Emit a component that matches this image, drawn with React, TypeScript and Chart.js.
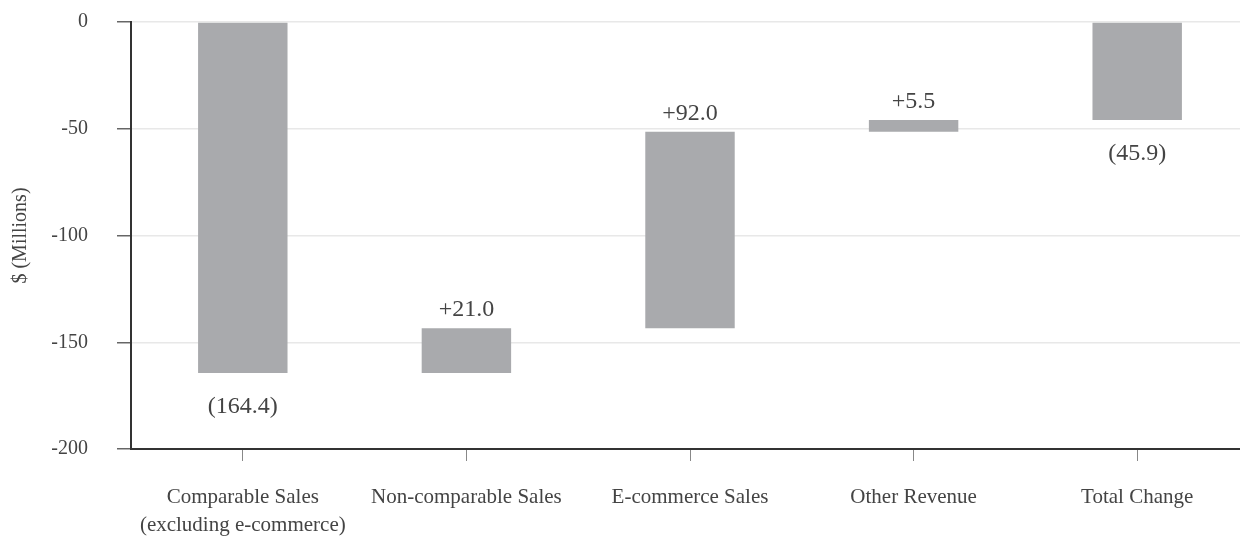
import React, { useEffect, useRef } from "react";
import { Chart, registerables } from "chart.js";

Chart.register(...registerables);

const categories: (string | string[])[] = [
  ["Comparable Sales", "(excluding e-commerce)"],
  "Non-comparable Sales",
  "E-commerce Sales",
  "Other Revenue",
  "Total Change",
];
const barFrom = [0, -164.4, -143.4, -51.4, 0];
const barTo = [-164.4, -143.4, -51.4, -45.9, -45.9];
const valueLabels = ["(164.4)", "+21.0", "+92.0", "+5.5", "(45.9)"];
const yTicks = [0, -50, -100, -150, -200];

const FONT = "'Liberation Serif', 'Times New Roman', serif";

const labelPlugin = {
  id: "waterfallLabels",
  afterDatasetsDraw(chart: any) {
    const ctx = chart.ctx;
    const meta = chart.getDatasetMeta(0);
    const y = chart.scales.y;
    ctx.save();
    ctx.font = `24px ${FONT}`;
    ctx.fillStyle = "#444";
    ctx.textAlign = "center";
    ctx.textBaseline = "middle";
    meta.data.forEach((bar: any, i: number) => {
      const text = valueLabels[i];
      const hi = Math.max(barFrom[i], barTo[i]);
      const lo = Math.min(barFrom[i], barTo[i]);
      if (text.startsWith("+")) {
        ctx.fillText(text, bar.x, y.getPixelForValue(hi) - 18);
      } else {
        ctx.fillText(text, bar.x, y.getPixelForValue(lo) + 34);
      }
    });
    ctx.restore();
  },
};

export default function App() {
  const ref = useRef<HTMLCanvasElement | null>(null);
  useEffect(() => {
    if (!ref.current) return;
    const chart = new Chart(ref.current, {
      type: "bar",
      data: {
        labels: categories,
        datasets: [
          {
            data: barFrom.map((f, i) => [f, barTo[i]]) as any,
            backgroundColor: "#a9aaad",
            borderWidth: 0,
            barPercentage: 0.4,
            categoryPercentage: 1,
          },
        ],
      },
      options: {
        responsive: false,
        animation: false,
        layout: { padding: { top: 22, right: 0, left: 0, bottom: 0 } },
        plugins: {
          legend: { display: false },
          tooltip: { enabled: false },
        },
        scales: {
          x: {
            grid: {
              display: true,
              drawOnChartArea: false,
              drawTicks: true,
              tickLength: 12,
              tickColor: "#888",
              offset: false,
            },
            border: { display: true, color: "#333", width: 2 },
            ticks: {
              color: "#444",
              font: { family: FONT, size: 21, lineHeight: 1.35 },
              padding: 22,
              maxRotation: 0,
              autoSkip: false,
            },
            afterFit: (s: any) => {
              s.height = 89;
              s.paddingLeft = 0;
              s.paddingRight = 0;
            },
          },
          y: {
            min: -200,
            max: 0,
            afterBuildTicks: (s: any) => {
              s.ticks = yTicks.map((v) => ({ value: v }));
            },
            grid: {
              color: "#e8e8e8",
              lineWidth: 1.5,
              tickLength: 14,
              tickColor: "#666",
            },
            border: { display: true, color: "#333", width: 2 },
            ticks: {
              color: "#444",
              font: { family: FONT, size: 20 },
              padding: 29,
              callback: (v: any) => String(v),
            },
            title: {
              display: true,
              text: "$ (Millions)",
              color: "#444",
              font: { family: FONT, size: 20 },
              padding: { top: 9, bottom: 0 },
            },
            afterFit: (s: any) => {
              s.width = 131;
              s.paddingTop = 0;
              s.paddingBottom = 0;
            },
          },
        },
      },
      plugins: [labelPlugin],
    });
    return () => chart.destroy();
  }, []);
  return (
    <div style={{ position: "fixed", left: 0, top: 0, width: 1240, height: 538, overflow: "hidden", background: "#fff" }}>
      <canvas ref={ref} width={1249} height={538} style={{ display: "block" }} />
    </div>
  );
}
